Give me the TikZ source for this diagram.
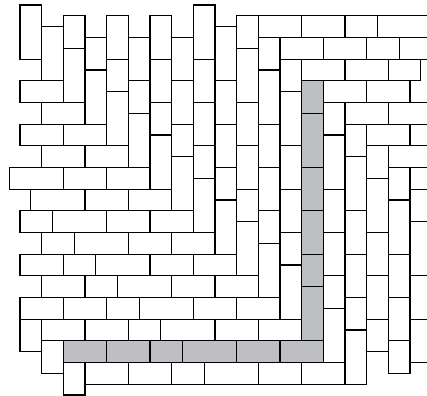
\documentclass[tikz,border=0pt]{standalone}
\usepackage{tikz}
\usepackage{xcolor}
\definecolor{tilegray}{RGB}{190,191,195}

\begin{document}
\begin{tikzpicture}[x=0.3cm,y=-0.3cm,line width=0.9pt]
\clip (-1.846,-0.462) rectangle (37.57,36.09);
\filldraw[fill=tilegray]
(26,7)rectangle(28,10) (26,10)rectangle(28,15) (26,15)rectangle(28,19)
(26,19)rectangle(28,23) (26,23)rectangle(28,26) (26,26)rectangle(28,31)
(4,31)rectangle(8,33) (8,31)rectangle(12,33) (12,31)rectangle(15,33)
(15,31)rectangle(20,33) (20,31)rectangle(24,33) (24,31)rectangle(28,33)
;
\draw
(0,0)rectangle(2,5)
(2,2)rectangle(4,7)
(4,1)rectangle(6,4) (4,4)rectangle(6,9)
(6,3)rectangle(8,6) (6,6)rectangle(8,11)
(8,1)rectangle(10,5) (8,5)rectangle(10,8) (8,8)rectangle(10,13)
(10,3)rectangle(12,7) (10,7)rectangle(12,10) (10,10)rectangle(12,15)
(12,1)rectangle(14,5) (12,5)rectangle(14,9) (12,9)rectangle(14,12) (12,12)rectangle(14,17)
(14,3)rectangle(16,7) (14,7)rectangle(16,11) (14,11)rectangle(16,14) (14,14)rectangle(16,19)
(16,0)rectangle(18,5) (16,5)rectangle(18,9) (16,9)rectangle(18,13) (16,13)rectangle(18,16)
(16,16)rectangle(18,21)
(18,2)rectangle(20,7) (18,7)rectangle(20,11) (18,11)rectangle(20,15) (18,15)rectangle(20,18)
(18,18)rectangle(20,23)
(20,1)rectangle(22,4) (20,4)rectangle(22,9) (20,9)rectangle(22,13) (20,13)rectangle(22,17)
(20,17)rectangle(22,20) (20,20)rectangle(22,25)
(22,3)rectangle(24,6) (22,6)rectangle(24,11) (22,11)rectangle(24,15) (22,15)rectangle(24,19)
(22,19)rectangle(24,22) (22,22)rectangle(24,27)
(24,5)rectangle(26,8) (24,8)rectangle(26,13) (24,13)rectangle(26,17) (24,17)rectangle(26,21)
(24,21)rectangle(26,24) (24,24)rectangle(26,29)
(0,7)rectangle(4,9)
(2,9)rectangle(6,11)
(0,11)rectangle(4,13) (4,11)rectangle(8,13)
(2,13)rectangle(6,15) (6,13)rectangle(10,15)
(-1,15)rectangle(4,17) (4,15)rectangle(8,17) (8,15)rectangle(12,17)
(1,17)rectangle(6,19) (6,17)rectangle(10,19) (10,17)rectangle(14,19)
(0,19)rectangle(3,21) (3,19)rectangle(8,21) (8,19)rectangle(12,21) (12,19)rectangle(16,21)
(2,21)rectangle(5,23) (5,21)rectangle(10,23) (10,21)rectangle(14,23) (14,21)rectangle(18,23)
(0,23)rectangle(4,25) (4,23)rectangle(7,25) (7,23)rectangle(12,25) (12,23)rectangle(16,25)
(16,23)rectangle(20,25)
(2,25)rectangle(6,27) (6,25)rectangle(9,27) (9,25)rectangle(14,27) (14,25)rectangle(18,27)
(18,25)rectangle(22,27)
(0,27)rectangle(4,29) (4,27)rectangle(8,29) (8,27)rectangle(11,29) (11,27)rectangle(16,29)
(16,27)rectangle(20,29) (20,27)rectangle(24,29)
(0,29)rectangle(2,32) (2,29)rectangle(6,31) (6,29)rectangle(10,31) (10,29)rectangle(13,31)
(13,29)rectangle(18,31) (18,29)rectangle(22,31) (22,29)rectangle(26,31)
(2,31)rectangle(4,34)
(4,33)rectangle(6,36) (6,33)rectangle(10,35) (10,33)rectangle(14,35) (14,33)rectangle(17,35)
(17,33)rectangle(22,35) (22,33)rectangle(26,35) (26,33)rectangle(30,35)
(22,1)rectangle(26,3) (26,1)rectangle(30,3) (30,1)rectangle(33,3) (33,1)rectangle(38,3)
(24,3)rectangle(28,5) (28,3)rectangle(32,5) (32,3)rectangle(35,5) (35,3)rectangle(38,5)
(26,5)rectangle(30,7) (30,5)rectangle(34,7) (34,5)rectangle(37,7)
(28,7)rectangle(32,9) (32,7)rectangle(36,9)
(30,9)rectangle(34,11) (34,9)rectangle(38,11)
(32,11)rectangle(36,13) (36,11)rectangle(38,13)
(34,13)rectangle(38,15)
(36,15)rectangle(38,17)
(28,9)rectangle(30,12) (28,12)rectangle(30,17) (28,17)rectangle(30,21) (28,21)rectangle(30,25)
(28,25)rectangle(30,28) (28,28)rectangle(30,33)
(30,11)rectangle(32,14) (30,14)rectangle(32,19) (30,19)rectangle(32,23) (30,23)rectangle(32,27)
(30,27)rectangle(32,30) (30,30)rectangle(32,35)
(32,13)rectangle(34,16) (32,16)rectangle(34,21) (32,21)rectangle(34,25) (32,25)rectangle(34,29)
(32,29)rectangle(34,32)
(34,15)rectangle(36,18) (34,18)rectangle(36,23) (34,23)rectangle(36,27) (34,27)rectangle(36,31)
(34,31)rectangle(36,34)
(36,17)rectangle(38,20) (36,20)rectangle(38,25) (36,25)rectangle(38,29) (36,29)rectangle(38,33)
;
\end{tikzpicture}
\end{document}
